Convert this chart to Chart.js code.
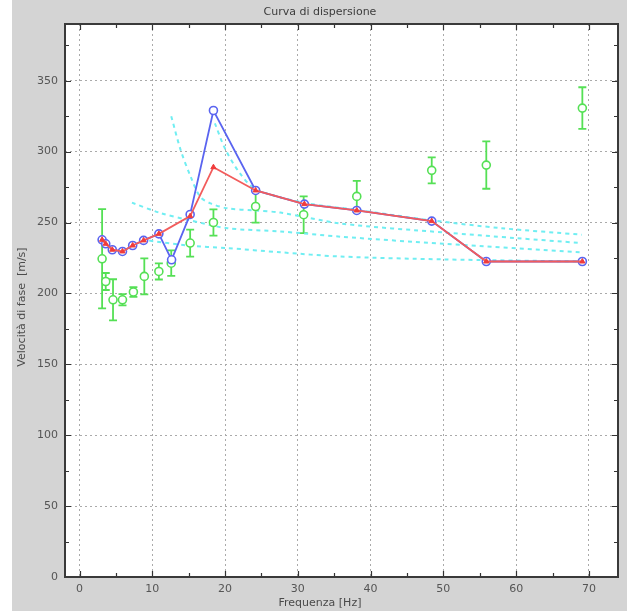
<!DOCTYPE html>
<html lang="it">
  <head>
    <meta charset="UTF-8" />
    <title>Curva di dispersione</title>
    <style>
      html, body { margin: 0; padding: 0; background: #fff; }
      #wrap { width: 627px; height: 611px; }
    </style>
  </head>
  <body>
    <div id="wrap"><canvas id="dispChart" width="627" height="611"></canvas></div>
    <script src="https://cdn.jsdelivr.net/npm/chart.js"></script>
    <script>
      // experimental picks (blue), smoothed curve (red)
      const freqBlue = [3.1, 3.6, 4.5, 5.9, 7.3, 8.8, 10.9, 12.65, 15.2, 18.4, 24.2, 30.9, 38.1, 48.4, 55.9, 69.1];
      const velBlue = [237.8, 235, 230.8, 229.6, 233.8, 237.4, 242, 223.7, 255.7, 329, 272.6, 263, 258.5, 251, 222.5, 222.5];
      const freqRed = [3.1, 3.6, 4.5, 5.9, 7.3, 8.8, 10.9, 15.2, 18.4, 24.2, 30.9, 38.1, 48.4, 55.9, 69.1];
      const velRed = [237.8, 235, 230.8, 229.6, 233.8, 237.4, 242, 254.5, 289, 272.6, 263, 258.5, 251, 222.5, 222.5];

      // green points with error bars (half width)
      const freqGreen = [3.1, 3.6, 4.6, 5.9, 7.4, 8.9, 10.9, 12.6, 15.2, 18.4, 24.2, 30.8, 38.1, 48.4, 55.9, 69.1];
      const velGreen = [224.4, 208.4, 195.5, 195.5, 201, 212, 215.5, 221.3, 235.5, 250, 261.3, 255.5, 268.4, 286.8, 290.5, 330.7];
      const errGreen = [35, 6, 14.5, 4, 3.5, 12.7, 5.7, 9, 9.5, 9.3, 11.4, 13, 11, 9.2, 16.7, 14.7];

      // theoretical modes (cyan dashed)
      const freqMode1 = [12.6, 13.9, 15.3, 16.6, 18, 20.3, 24, 27.6, 35.9, 50, 60, 69];
      const velMode1 = [325, 301, 282, 268, 263.5, 260, 258.5, 257, 249.3, 243, 239, 235.5];
      const freqMode2 = [18.6, 20, 22, 24.2, 30.8, 38, 48.4, 58, 69];
      const velMode2 = [320, 302, 285, 273.5, 264, 259, 251.5, 246, 241.4];
      const freqMode3 = [7.2, 11.1, 14.8, 20.3, 27.6, 35.9, 50, 69];
      const velMode3 = [264, 256.7, 252, 246, 243.7, 240, 235, 229];
      const freqMode4 = [8.5, 14.8, 20.3, 27.6, 35.9, 50, 69];
      const velMode4 = [238, 233.8, 232, 229, 226, 224, 222.5];

      const titleText = "Curva di dispersione";
      const xLabel = "Frequenza [Hz]";
      const yLabel = "Velocità di fase  [m/s]";

      const xTicksMajor = 10, xTicksMinor = 5;
      const yTicksMajor = 50, yTicksMinor = 25;

      const textFont = "11px 'DejaVu Sans'";
      const pts = (xs, ys) => xs.map((x, i) => ({ x: x, y: ys[i] }));

      const bgPlugin = {
        id: "bg",
        beforeDraw(chart) {
          const { ctx, chartArea: a } = chart;
          ctx.save();
          ctx.fillStyle = "#ffffff";
          ctx.fillRect(0, 0, chart.width, chart.height);
          ctx.fillStyle = "#d4d4d4";
          ctx.fillRect(12, 0, chart.width - 12, chart.height);
          ctx.fillStyle = "#ffffff";
          ctx.fillRect(a.left, a.top, a.right - a.left, a.bottom - a.top);
          ctx.restore();
        },
      };

      // title and axis labels, centred on the grey figure like the original
      const labels = {
        id: "labels",
        afterDraw(chart) {
          const { ctx } = chart;
          ctx.save();
          ctx.font = textFont;
          ctx.textAlign = "center";
          ctx.textBaseline = "middle";
          ctx.fillStyle = "#3c3c3c";
          ctx.fillText(titleText, 320, 12);
          ctx.fillStyle = "#4a4a4a";
          ctx.fillText(xLabel, 320, 603);
          ctx.translate(22, 307);
          ctx.rotate(-Math.PI / 2);
          ctx.fillText(yLabel, 0, 0);
          ctx.restore();
        },
      };

      const errorBars = {
        id: "errorBars",
        beforeDatasetsDraw(chart) {
          const { ctx } = chart;
          const xs = chart.scales.x, ys = chart.scales.y;
          ctx.save();
          ctx.strokeStyle = "#55e055";
          ctx.lineWidth = 1.8;
          freqGreen.forEach((f, i) => {
            const px = xs.getPixelForValue(f);
            const top = ys.getPixelForValue(velGreen[i] + errGreen[i]);
            const bot = ys.getPixelForValue(velGreen[i] - errGreen[i]);
            ctx.beginPath();
            ctx.moveTo(px, top); ctx.lineTo(px, bot);
            ctx.moveTo(px - 4, top); ctx.lineTo(px + 4, top);
            ctx.moveTo(px - 4, bot); ctx.lineTo(px + 4, bot);
            ctx.stroke();
          });
          ctx.restore();
        },
      };

      const frame = {
        id: "frame",
        afterDraw(chart) {
          const { ctx, chartArea: a } = chart;
          const xs = chart.scales.x, ys = chart.scales.y;
          ctx.save();
          ctx.strokeStyle = "#333";
          ctx.lineWidth = 1.2;
          ctx.beginPath();
          for (let v = 0; v <= xs.max; v += xTicksMinor) {
            const p = Math.round(xs.getPixelForValue(v)) + 0.5;
            const len = v % xTicksMajor === 0 ? 6 : 4;
            ctx.moveTo(p, a.bottom); ctx.lineTo(p, a.bottom - len);
            ctx.moveTo(p, a.top); ctx.lineTo(p, a.top + len);
          }
          for (let v = 0; v <= ys.max; v += yTicksMinor) {
            const p = Math.round(ys.getPixelForValue(v)) + 0.5;
            const len = v % yTicksMajor === 0 ? 6 : 4;
            ctx.moveTo(a.left, p); ctx.lineTo(a.left + len, p);
            ctx.moveTo(a.right, p); ctx.lineTo(a.right - len, p);
          }
          ctx.stroke();
          ctx.lineWidth = 2;
          ctx.strokeStyle = "#3a3a3a";
          ctx.strokeRect(a.left, a.top, a.right - a.left, a.bottom - a.top);
          ctx.restore();
        },
      };

      const modeStyle = {
        borderColor: "#70eef2",
        borderWidth: 2,
        borderDash: [4, 4],
        pointRadius: 0,
        fill: false,
        tension: 0.3,
      };

      new Chart(document.getElementById("dispChart"), {
        type: "line",
        data: {
          datasets: [
            {
              data: pts(freqRed, velRed),
              borderColor: "#f25c5c",
              borderWidth: 1.8,
              pointStyle: "triangle",
              pointRadius: 3,
              pointBackgroundColor: "#f03c3c",
              pointBorderColor: "#f03c3c",
              pointBorderWidth: 1,
            },
            {
              data: pts(freqBlue, velBlue),
              borderColor: "#5a64f0",
              borderWidth: 1.8,
              pointStyle: "circle",
              pointRadius: 4,
              pointBackgroundColor: "#ffffff",
              pointBorderColor: "#5a64f0",
              pointBorderWidth: 1.6,
            },
            {
              data: pts(freqGreen, velGreen),
              showLine: false,
              pointStyle: "circle",
              pointRadius: 4,
              pointBackgroundColor: "#ffffff",
              pointBorderColor: "#55e055",
              pointBorderWidth: 1.6,
            },
            Object.assign({ data: pts(freqMode1, velMode1) }, modeStyle),
            Object.assign({ data: pts(freqMode2, velMode2) }, modeStyle),
            Object.assign({ data: pts(freqMode3, velMode3) }, modeStyle),
            Object.assign({ data: pts(freqMode4, velMode4) }, modeStyle),
          ],
        },
        options: {
          responsive: false,
          animation: false,
          events: [],
          layout: { padding: { left: 0, right: 9, top: 24, bottom: 0 } },
          plugins: {
            legend: { display: false },
            tooltip: { enabled: false },
            title: { display: false },
          },
          scales: {
            x: {
              type: "linear",
              min: -2,
              max: 74,
              afterFit: (s) => { s.height = 34; },
              ticks: {
                stepSize: xTicksMajor,
                includeBounds: false,
                maxRotation: 0,
                padding: 6,
                color: "#555",
                font: { family: "DejaVu Sans", size: 11 },
              },
              grid: { color: "#aaaaaa", lineWidth: 1, drawTicks: false },
              border: { display: false, dash: [2, 3] },
            },
            y: {
              type: "linear",
              min: 0,
              max: 390,
              afterFit: (s) => { s.width = 65; },
              ticks: {
                stepSize: yTicksMajor,
                includeBounds: false,
                padding: 7,
                color: "#555",
                font: { family: "DejaVu Sans", size: 11 },
              },
              grid: { color: "#aaaaaa", lineWidth: 1, drawTicks: false },
              border: { display: false, dash: [2, 3] },
            },
          },
        },
        plugins: [bgPlugin, errorBars, frame, labels],
      });
    </script>
  </body>
</html>
